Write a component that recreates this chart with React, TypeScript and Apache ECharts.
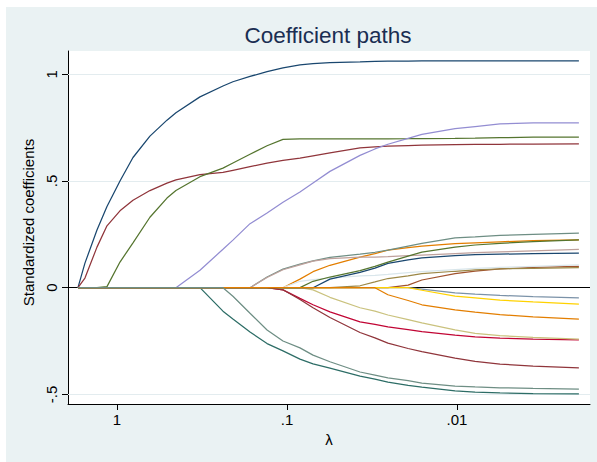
import React, { useEffect, useRef } from "react";
import * as echarts from "echarts";

// lambda grid (penalty values) at which the coefficients were read
const lambdas = [
  1.696, 1.543, 1.311, 1.145, 0.96, 0.805, 0.64, 0.508, 0.45, 0.325, 0.238, 0.208, 0.165, 0.131,
  0.1056, 0.0839, 0.0703, 0.0559, 0.0372, 0.0304, 0.0255, 0.0194, 0.0161, 0.01027, 0.00783,
  0.00559, 0.00357, 0.00192,
];

const titleText = "Coefficient paths";
const xAxisTitle = "λ";
const yAxisTitle = "Standardized coefficients";
const xTicks = [1, 0.1, 0.01];
const xTickLabels = ["1", ".1", ".01"];
const yTicks = [-0.5, 0, 0.5, 1];
const yTickLabels = ["-.5", "0", ".5", "1"];

// coefficient paths (one array per variable, aligned to lambdas)
const v01 = [0, 0.115, 0.27, 0.38, 0.5, 0.61, 0.71, 0.785, 0.82, 0.894, 0.945, 0.965, 0.99, 1.012, 1.03, 1.044, 1.05, 1.055, 1.058, 1.06, 1.061, 1.062, 1.063, 1.063, 1.063, 1.063, 1.063, 1.063];
const v02 = [0, 0.045, 0.19, 0.29, 0.36, 0.41, 0.455, 0.49, 0.505, 0.53, 0.54, 0.55, 0.567, 0.584, 0.596, 0.607, 0.618, 0.632, 0.655, 0.66, 0.663, 0.666, 0.668, 0.67, 0.671, 0.672, 0.673, 0.674];
const v03 = [0, 0, 0, 0.005, 0.12, 0.21, 0.33, 0.42, 0.455, 0.52, 0.56, 0.584, 0.625, 0.665, 0.695, 0.697, 0.697, 0.697, 0.697, 0.697, 0.697, 0.698, 0.699, 0.7, 0.701, 0.703, 0.705, 0.706];
const v04 = [0, 0, 0, 0, 0, 0, 0, 0, 0, 0, 0, 0, 0, 0, 0, 0.04, 0.075, 0.105, 0.143, 0.16, 0.176, 0.188, 0.195, 0.206, 0.21, 0.215, 0.22, 0.224];
const v05 = [0, 0, 0, 0, 0, 0, 0, 0, 0, 0, 0, 0, 0, 0.05, 0.087, 0.11, 0.126, 0.142, 0.157, 0.166, 0.176, 0.195, 0.208, 0.233, 0.238, 0.245, 0.25, 0.256];
const v06 = [0, 0, 0, 0, 0, 0, 0, 0, 0, 0, 0, 0, 0, 0, -0.01, -0.05, -0.08, -0.113, -0.16, -0.172, -0.184, -0.197, -0.206, -0.222, -0.23, -0.236, -0.241, -0.245];
const v07 = [0, 0, 0, 0, 0, 0, 0, 0, 0, 0.082, 0.18, 0.223, 0.3, 0.35, 0.4, 0.448, 0.49, 0.545, 0.62, 0.65, 0.672, 0.7, 0.718, 0.745, 0.755, 0.767, 0.772, 0.772];
const v08 = [0, 0, 0, 0, 0, 0, 0, 0, 0, 0, 0, 0, 0, 0, 0, 0, -0.01, -0.045, -0.094, -0.11, -0.128, -0.15, -0.165, -0.198, -0.214, -0.225, -0.233, -0.241];
const v09 = [0, 0, 0, 0, 0, 0, 0, 0, 0, 0, 0, 0, 0, 0, 0, 0, 0, 0, 0, 0, 0, 0.012, 0.036, 0.066, 0.078, 0.088, 0.095, 0.1];
const v10 = [0, 0, 0, 0, 0, 0, 0, 0, 0, 0, 0, 0, 0, 0, 0, 0, 0, 0, 0, 0, 0, 0, -0.007, -0.024, -0.03, -0.036, -0.042, -0.048];
const v11 = [0, 0, 0, 0, 0, 0, 0, 0, 0, 0, -0.11, -0.147, -0.208, -0.262, -0.296, -0.335, -0.357, -0.377, -0.414, -0.428, -0.442, -0.458, -0.466, -0.484, -0.489, -0.493, -0.496, -0.498];
const v12 = [0, 0, 0, 0, 0, 0, 0, 0, 0, 0, 0, 0, 0, 0, 0, 0, 0, 0, 0.009, 0.027, 0.043, 0.055, 0.066, 0.077, 0.083, 0.088, 0.091, 0.094];
const v13 = [0, 0, 0, 0, 0, 0, 0, 0, 0, 0, 0, 0, 0, 0.048, 0.084, 0.107, 0.124, 0.136, 0.143, 0.143, 0.145, 0.15, 0.153, 0.16, 0.164, 0.168, 0.173, 0.18];
const v14 = [0, 0, 0, 0, 0, 0, 0, 0, 0, 0, 0, 0, 0, 0, 0, 0, 0, 0, 0, 0, 0, 0, -0.012, -0.04, -0.048, -0.058, -0.067, -0.077];
const v15 = [0, 0, 0, 0, 0, 0, 0, 0, 0, 0, 0, 0, 0, 0, 0, 0.03, 0.038, 0.045, 0.055, 0.058, 0.062, 0.07, 0.075, 0.085, 0.09, 0.095, 0.1, 0.107];
const v16 = [0, 0, 0, 0, 0, 0, 0, 0, 0, 0, 0, 0, 0, 0, 0, 0, 0, 0.04, 0.072, 0.092, 0.114, 0.13, 0.14, 0.15, 0.155, 0.157, 0.16, 0.162];
const v17 = [0, 0, 0, 0, 0, 0, 0, 0, 0, 0, 0, 0, 0, 0, -0.01, -0.055, -0.094, -0.14, -0.21, -0.235, -0.26, -0.285, -0.3, -0.33, -0.345, -0.358, -0.367, -0.376];
const v18 = [0, 0, 0, 0, 0, 0, 0, 0, 0, 0, 0, 0, 0, 0, 0, 0, 0.03, 0.05, 0.08, 0.1, 0.12, 0.148, 0.167, 0.19, 0.2, 0.208, 0.216, 0.224];
const v19 = [0, 0, 0, 0, 0, 0, 0, 0, 0, 0, 0, 0, 0, 0, 0, 0, 0, 0, 0, 0, -0.033, -0.06, -0.08, -0.104, -0.114, -0.126, -0.137, -0.147];
const v20 = [0, 0, 0, 0, 0, 0, 0, 0, 0, 0, 0, -0.04, -0.12, -0.198, -0.25, -0.282, -0.316, -0.347, -0.395, -0.41, -0.423, -0.436, -0.447, -0.461, -0.465, -0.469, -0.472, -0.475];

const paths = [v01, v02, v03, v04, v05, v06, v07, v08, v09, v10, v11, v12, v13, v14, v15, v16, v17, v18, v19, v20];

// Stata s2color palette (repeats after 15)
const palette = [
  "#1A476F", "#90353B", "#55752F", "#E37E00", "#6E8E84", "#C10534", "#938DD2", "#CAC27E",
  "#A0522D", "#7B92A8", "#2D6D66", "#9C8847", "#BFA19C", "#FFD200", "#D9E6EB",
];

const FONT = "'Liberation Sans', Arial, Helvetica, sans-serif";

export default function App() {
  const ref = useRef<HTMLDivElement>(null);

  useEffect(() => {
    if (!ref.current) return;
    const chart = echarts.init(ref.current, undefined, { renderer: "svg" });

    const xLog = lambdas.map((l) => Math.log10(l));
    const xTickVals = xTicks.map((t) => Math.log10(t));

    const lineSeries: any[] = paths.map((vals, i) => ({
      type: "line",
      name: "v" + (i + 1),
      data: vals.map((v, j) => [xLog[j], v]),
      showSymbol: false,
      symbol: "none",
      z: 3,
      silent: true,
      lineStyle: { color: palette[i % palette.length], width: 1.25 },
    }));

    const gridSeries = {
      type: "line",
      data: [],
      silent: true,
      markLine: {
        z: 1,
        silent: true,
        symbol: ["none", "none"],
        label: { show: false },
        animation: false,
        data: [
          { yAxis: 1, lineStyle: { color: "#E3ECEF", width: 1, type: "solid" } },
          { yAxis: 0.5, lineStyle: { color: "#E3ECEF", width: 1, type: "solid" } },
          { yAxis: -0.5, lineStyle: { color: "#E3ECEF", width: 1, type: "solid" } },
          { yAxis: 0, lineStyle: { color: "#000000", width: 1, type: "solid" } },
        ],
      },
    };

    chart.setOption({
      animation: false,
      textStyle: { fontFamily: FONT },
      graphic: [
        { type: "rect", z: -10, silent: true, shape: { x: 6, y: 7, width: 591, height: 455 }, style: { fill: "#EAF2F3" } },
        { type: "rect", z: -9, silent: true, shape: { x: 68, y: 51, width: 522, height: 353 }, style: { fill: "#FFFFFF" } },
        {
          type: "text",
          z: 10,
          x: 328,
          y: 35,
          style: { text: titleText, fontFamily: FONT, fontSize: 22.5, fill: "#1A2E52", align: "center", verticalAlign: "middle" },
        },
      ],
      grid: { left: 68, right: 7, top: 51, bottom: 58, containLabel: false, outerBoundsMode: "none" },
      xAxis: {
        type: "value",
        min: -2.782,
        max: 0.288,
        inverse: true,
        name: xAxisTitle,
        nameLocation: "middle",
        nameGap: 27,
        nameTextStyle: { fontFamily: FONT, fontSize: 15, color: "#000" },
        axisLine: { show: true, onZero: false, lineStyle: { color: "#000", width: 1 } },
        axisTick: { show: true, length: 6, customValues: xTickVals, lineStyle: { color: "#000" } },
        axisLabel: {
          customValues: xTickVals,
          margin: 8,
          fontFamily: FONT,
          fontSize: 15,
          color: "#000",
          formatter: (v: number) => {
            const i = xTickVals.findIndex((t) => Math.abs(t - v) < 1e-6);
            return i >= 0 ? xTickLabels[i] : "";
          },
        },
        splitLine: { show: false },
      },
      yAxis: {
        type: "value",
        min: -0.545,
        max: 1.109,
        name: yAxisTitle,
        nameLocation: "middle",
        nameGap: 28,
        nameTextStyle: { fontFamily: FONT, fontSize: 15, color: "#000", padding: [0, 0, 0, 10] },
        axisLine: { show: true, onZero: false, lineStyle: { color: "#000", width: 1 } },
        axisTick: { show: true, length: 6, customValues: yTicks, lineStyle: { color: "#000" } },
        axisLabel: {
          customValues: yTicks,
          rotate: 90,
          margin: 9,
          fontFamily: FONT,
          fontSize: 15,
          color: "#000",
          formatter: (v: number) => {
            const i = yTicks.findIndex((t) => Math.abs(t - v) < 1e-6);
            return i >= 0 ? yTickLabels[i] : "";
          },
        },
        splitLine: { show: false },
      },
      series: [gridSeries, ...lineSeries],
    });

    return () => chart.dispose();
  }, []);

  return (
    <div
      ref={ref}
      style={{ position: "absolute", left: 0, top: 0, width: 597, height: 462, background: "#FFFFFF" }}
    />
  );
}
